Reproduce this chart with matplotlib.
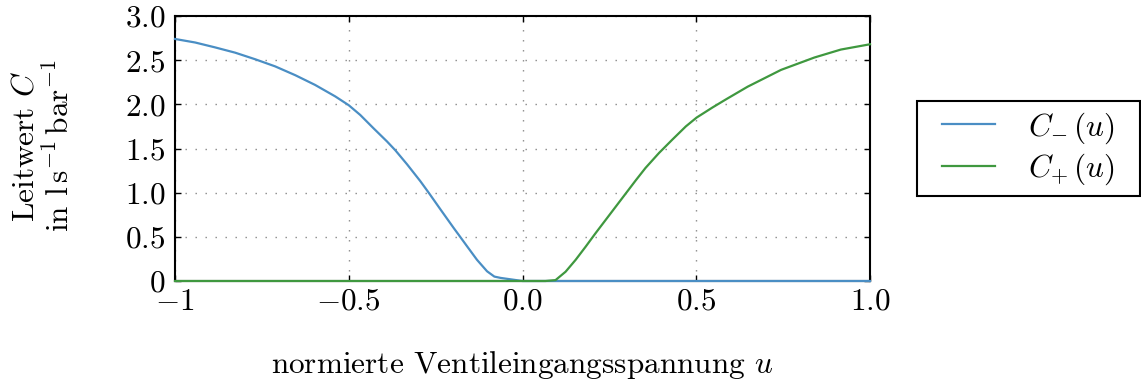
import matplotlib
matplotlib.use("Agg")
import matplotlib.pyplot as plt
from matplotlib.patches import Rectangle

plt.rcParams['font.family'] = 'serif'
plt.rcParams['font.serif'] = ['cmr10']
plt.rcParams['mathtext.fontset'] = 'cm'
plt.rcParams['axes.unicode_minus'] = False

# C_minus data
u_minus = [-1.0, -0.942, -0.885, -0.827, -0.769, -0.712, -0.654, -0.597, -0.539, -0.5,
           -0.467, -0.429, -0.39, -0.366, -0.332, -0.294, -0.27, -0.236, -0.198, -0.184,
           -0.159, -0.131, -0.102, -0.081, -0.063, 0.0, 0.5, 1.0]
c_minus = [2.74, 2.70, 2.645, 2.585, 2.51, 2.43, 2.33, 2.22, 2.09, 1.99,
           1.88, 1.73, 1.58, 1.48, 1.32, 1.13, 1.00, 0.81, 0.60, 0.525,
           0.39, 0.24, 0.11, 0.05, 0.035, 0.0, 0.0, 0.0]

# C_plus data
u_plus = [-1.0, -0.5, 0.0, 0.066, 0.095, 0.124, 0.153, 0.182, 0.21, 0.239, 0.268, 0.297,
          0.326, 0.354, 0.393, 0.431, 0.47, 0.501, 0.547, 0.585, 0.648, 0.744, 0.84,
          0.916, 1.0]
c_plus = [0.0, 0.0, 0.0, 0.0, 0.01, 0.105, 0.24, 0.39, 0.54, 0.69, 0.84, 0.99,
          1.14, 1.28, 1.45, 1.60, 1.75, 1.85, 1.965, 2.055, 2.20, 2.39, 2.53,
          2.62, 2.68]

x_ticks = [-1.0, -0.5, 0.0, 0.5, 1.0]
x_ticklabels = [r'$-1$', r'$-0.5$', r'$0.0$', r'$0.5$', r'$1.0$']
y_ticks = [0.0, 0.5, 1.0, 1.5, 2.0, 2.5, 3.0]
y_ticklabels = [r'$0$', r'$0.5$', r'$1.0$', r'$1.5$', r'$2.0$', r'$2.5$', r'$3.0$']

W, H = 1141, 385
FS = 22.5
fig = plt.figure(figsize=(W/100, H/100), dpi=100)
ax = fig.add_axes([175/W, 1 - 281/H, (870-175)/W, (281-16)/H])

ax.plot(u_minus, c_minus, color='#4a8ec4', lw=1.6, label=r'$C_{-}\,(u)$',
        clip_on=False, zorder=3, solid_joinstyle='round')
ax.plot(u_plus, c_plus, color='#3f983f', lw=1.6, label=r'$C_{+}\,(u)$',
        clip_on=False, zorder=3, solid_joinstyle='round')

ax.set_xlim(-1, 1)
ax.set_ylim(0, 3)
ax.set_xticks(x_ticks)
ax.set_xticklabels(x_ticklabels, fontsize=FS)
ax.set_yticks(y_ticks)
ax.set_yticklabels(y_ticklabels, fontsize=FS)
ax.tick_params(direction='in', top=True, right=True, length=4.5, width=1)
ax.tick_params(axis='x', pad=5)
ax.tick_params(axis='y', pad=7)
ax.grid(True, linestyle=(0, (1, 6.2)), color='#888888', lw=1)
for s in ax.spines.values():
    s.set_linewidth(1.5)

fig.text(522/W, 1 - 365/H, r'normierte Ventileingangsspannung $u$', fontsize=FS,
         ha='center', va='center')
fig.text(43/W, 1 - 146/H, 'Leitwert $C$\nin $\\mathrm{l\\,s^{-1}\\,bar^{-1}}$', fontsize=FS,
         ha='center', va='center', rotation=90, linespacing=1.15)

leg = fig.legend(loc='upper left', bbox_to_anchor=(942/W, 1 - 110/H), borderaxespad=0,
                 fontsize=FS, frameon=False, borderpad=0,
                 handlelength=1.7, handletextpad=1.05, labelspacing=0.2)
fig.patches.append(Rectangle((917/W, 1 - 196/H), (1140-917)/W, (196-101)/H,
                             transform=fig.transFigure, fill=False, edgecolor='black',
                             lw=1.5, zorder=5))

fig.savefig('out.png', dpi=100)
